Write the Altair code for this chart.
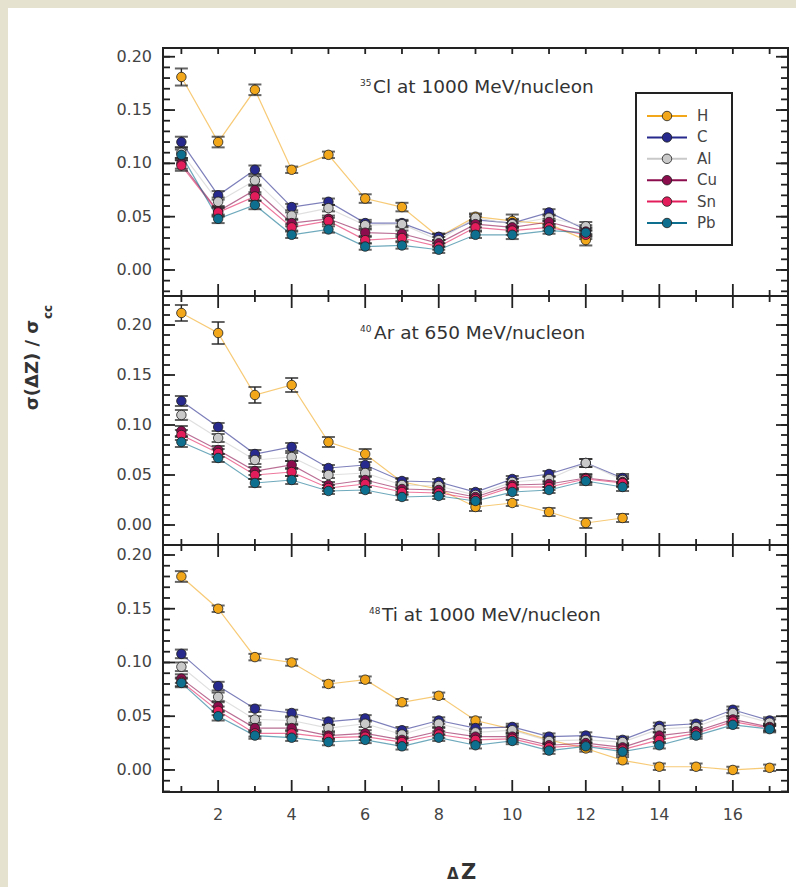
import altair as alt
import pandas as pd

SERIES = ["H", "C", "Al", "Cu", "Sn", "Pb"]
COLORS = ["#f2a71b", "#27298c", "#c9c9c9", "#8c0d4d", "#e31c5c", "#0e6f8f"]

# ---- panel 1: 35Cl at 1000 MeV/nucleon
X1 = [1, 2, 3, 4, 5, 6, 7, 8, 9, 10, 11, 12]
P1 = {
    "H":  [0.181, 0.120, 0.169, 0.094, 0.108, 0.067, 0.059, 0.031, 0.050, 0.046, 0.043, 0.028],
    "C":  [0.120, 0.070, 0.094, 0.059, 0.064, 0.044, 0.044, 0.031, 0.047, 0.044, 0.054, 0.038],
    "Al": [0.110, 0.064, 0.084, 0.051, 0.058, 0.042, 0.043, 0.028, 0.049, 0.043, 0.049, 0.041],
    "Cu": [0.100, 0.055, 0.075, 0.044, 0.048, 0.035, 0.034, 0.025, 0.043, 0.040, 0.045, 0.036],
    "Sn": [0.098, 0.054, 0.069, 0.040, 0.046, 0.028, 0.030, 0.022, 0.040, 0.037, 0.040, 0.033],
    "Pb": [0.108, 0.048, 0.061, 0.033, 0.038, 0.022, 0.023, 0.019, 0.033, 0.033, 0.037, 0.035],
}
E1_H = [0.008, 0.005, 0.005, 0.003, 0.003, 0.004, 0.004, 0.003, 0.003, 0.006, 0.003, 0.005]
E1_T = [0.005, 0.004, 0.004, 0.003, 0.003, 0.003, 0.003, 0.003, 0.003, 0.004, 0.003, 0.004]

# ---- panel 2: 40Ar at 650 MeV/nucleon
X2 = [1, 2, 3, 4, 5, 6, 7, 8, 9, 10, 11, 12, 13]
P2 = {
    "H":  [0.212, 0.192, 0.130, 0.140, 0.083, 0.071, 0.043, 0.036, 0.018, 0.022, 0.013, 0.002, 0.007],
    "C":  [0.124, 0.098, 0.071, 0.078, 0.057, 0.060, 0.044, 0.043, 0.033, 0.046, 0.051, 0.062, 0.047],
    "Al": [0.110, 0.087, 0.065, 0.068, 0.050, 0.052, 0.040, 0.039, 0.030, 0.043, 0.046, 0.062, 0.045],
    "Cu": [0.094, 0.075, 0.054, 0.060, 0.040, 0.045, 0.036, 0.035, 0.028, 0.040, 0.041, 0.047, 0.043],
    "Sn": [0.090, 0.072, 0.050, 0.053, 0.037, 0.041, 0.033, 0.032, 0.026, 0.038, 0.038, 0.046, 0.042],
    "Pb": [0.083, 0.067, 0.042, 0.045, 0.034, 0.035, 0.028, 0.029, 0.024, 0.033, 0.035, 0.044, 0.038],
}
E2_H = [0.008, 0.011, 0.008, 0.007, 0.005, 0.005, 0.003, 0.003, 0.004, 0.003, 0.004, 0.005, 0.004]
E2_T = [0.005, 0.004, 0.004, 0.004, 0.003, 0.003, 0.003, 0.003, 0.003, 0.003, 0.003, 0.004, 0.004]

# ---- panel 3: 48Ti at 1000 MeV/nucleon
X3 = [1, 2, 3, 4, 5, 6, 7, 8, 9, 10, 11, 12, 13, 14, 15, 16, 17]
P3 = {
    "H":  [0.180, 0.150, 0.105, 0.100, 0.080, 0.084, 0.063, 0.069, 0.046, 0.038, 0.028, 0.020, 0.009, 0.003, 0.003, 0.000, 0.002],
    "C":  [0.108, 0.078, 0.057, 0.053, 0.045, 0.048, 0.037, 0.046, 0.039, 0.040, 0.031, 0.032, 0.028, 0.041, 0.043, 0.056, 0.046],
    "Al": [0.096, 0.068, 0.047, 0.046, 0.039, 0.043, 0.033, 0.043, 0.035, 0.037, 0.027, 0.028, 0.026, 0.038, 0.040, 0.053, 0.044],
    "Cu": [0.085, 0.059, 0.039, 0.039, 0.032, 0.034, 0.028, 0.036, 0.031, 0.031, 0.023, 0.025, 0.021, 0.032, 0.036, 0.047, 0.040],
    "Sn": [0.082, 0.055, 0.034, 0.034, 0.030, 0.031, 0.026, 0.033, 0.028, 0.029, 0.021, 0.023, 0.019, 0.028, 0.034, 0.045, 0.039],
    "Pb": [0.081, 0.050, 0.032, 0.030, 0.026, 0.028, 0.022, 0.030, 0.023, 0.027, 0.018, 0.022, 0.017, 0.023, 0.032, 0.042, 0.038],
}
E3_H = [0.005, 0.003, 0.003, 0.003, 0.003, 0.003, 0.003, 0.003, 0.003, 0.003, 0.003, 0.003, 0.003, 0.003, 0.003, 0.003, 0.003]
E3_T = [0.004, 0.004, 0.003, 0.003, 0.003, 0.003, 0.003, 0.003, 0.003, 0.003, 0.003, 0.003, 0.003, 0.003, 0.003, 0.003, 0.003]

PANEL_SUP = ["35", "40", "48"]
PANEL_TXT = ["Cl at 1000 MeV/nucleon", "Ar at 650 MeV/nucleon", "Ti at 1000 MeV/nucleon"]

Y_LABELS = ["0.00", "0.05", "0.10", "0.15", "0.20"]
Y_MAJOR = [0.00, 0.05, 0.10, 0.15, 0.20]
Y_MINOR = [[round(i * 0.01, 2) for i in range(-2, 21)],
           [round(i * 0.01, 2) for i in range(-2, 23)],
           [round(i * 0.01, 2) for i in range(-2, 21)]]
X_TICKS = list(range(1, 18))
X_LABELS = [2, 4, 6, 8, 10, 12, 14, 16]

# ---- layout (plot area pixels)
W, HT = 625, 744
TOPS = [0, 248, 497]
BOTS = [248, 497, 744]
DOMAINS = [[-0.0244, 0.2082], [-0.020, 0.229], [-0.0205, 0.2093]]
ANN = [(197, 210, 38, 45), (197, 211, 284, 291), (206, 219, 566, 573)]

FONT = "DejaVu Sans"
INK = "#222222"
TXT = "#444444"

XS = alt.Scale(domain=[0.5, 17.5], nice=False, zero=False)
CS = alt.Scale(domain=SERIES, range=COLORS)


def ysc(k):
    return alt.Scale(domain=DOMAINS[k], range=[BOTS[k], TOPS[k]], nice=False, zero=False)


one = pd.DataFrame({"a": [0]})
layers = []

# white page area
layers.append(alt.Chart(one).mark_rect(fill="white").encode(
    x=alt.value(-155), x2=alt.value(633), y=alt.value(-40), y2=alt.value(839)))

panels = [(X1, P1, E1_H, E1_T), (X2, P2, E2_H, E2_T), (X3, P3, E3_H, E3_T)]
for k, (xs, vals, eh, et) in enumerate(panels):
    rows = []
    for si, s in enumerate(SERIES):
        errs = eh if s == "H" else et
        for x, v, e in zip(xs, vals[s], errs):
            rows.append({"x": x, "v": v, "lo": v - e, "hi": v + e, "series": s, "o": si})
    df = pd.DataFrame(rows)
    ys = ysc(k)
    X = alt.X("x:Q", scale=XS, axis=None)
    base = alt.Chart(df)
    layers.append(base.mark_line(strokeWidth=1.2, opacity=0.6).encode(
        x=X, y=alt.Y("v:Q", scale=ys, axis=None),
        color=alt.Color("series:N", scale=CS, legend=None), order=alt.Order("x:Q")))
    layers.append(base.mark_rule(color=INK, strokeWidth=1.4).encode(
        x=X, y=alt.Y("lo:Q", scale=ys, axis=None), y2="hi:Q"))
    layers.append(base.mark_tick(color=INK, thickness=2, size=13, orient="horizontal").encode(
        x=X, y=alt.Y("lo:Q", scale=ys, axis=None)))
    layers.append(base.mark_tick(color=INK, thickness=2, size=13, orient="horizontal").encode(
        x=X, y=alt.Y("hi:Q", scale=ys, axis=None)))
    layers.append(base.mark_circle(size=90, opacity=1, stroke="#1e1e1e", strokeWidth=0.8).encode(
        x=X, y=alt.Y("v:Q", scale=ys, axis=None),
        color=alt.Color("series:N", scale=CS, legend=None), order=alt.Order("o:Q")))

    # y ticks (inward) both sides
    dmaj = pd.DataFrame({"t": Y_MAJOR, "lab": Y_LABELS})
    dmin = pd.DataFrame({"t": Y_MINOR[k]})
    for d, ln in ((dmaj, 12), (dmin, 7)):
        layers.append(alt.Chart(d).mark_rule(color=INK, strokeWidth=1.8).encode(
            y=alt.Y("t:Q", scale=ys, axis=None), x=alt.value(0), x2=alt.value(ln)))
        layers.append(alt.Chart(d).mark_rule(color=INK, strokeWidth=1.8).encode(
            y=alt.Y("t:Q", scale=ys, axis=None), x=alt.value(W - ln), x2=alt.value(W)))
    layers.append(alt.Chart(dmaj).mark_text(align="right", baseline="middle", font=FONT,
                                            fontSize=16, color=TXT).encode(
        y=alt.Y("t:Q", scale=ys, axis=None), x=alt.value(-11), text="lab:N"))

    # panel annotation
    sx, mx, sy, my = ANN[k]
    layers.append(alt.Chart(pd.DataFrame({"s": [PANEL_SUP[k]]})).mark_text(
        align="left", baseline="alphabetic", font=FONT, fontSize=9, color="#333333").encode(
        x=alt.value(sx), y=alt.value(sy), text="s:N"))
    layers.append(alt.Chart(pd.DataFrame({"s": [PANEL_TXT[k]]})).mark_text(
        align="left", baseline="alphabetic", font=FONT, fontSize=18.5, color="#333333").encode(
        x=alt.value(mx), y=alt.value(my), text="s:N"))

# x ticks at each horizontal boundary
even = [t for t in X_TICKS if t % 2 == 0]
odd = [t for t in X_TICKS if t % 2 == 1]
for b in [0, 248, 497, 744]:
    for tl, ln in ((even, 12), (odd, 6)):
        if b == 0:
            ln = 6
        d = pd.DataFrame({"t": tl})
        if b < HT:
            layers.append(alt.Chart(d).mark_rule(color=INK, strokeWidth=1.8).encode(
                x=alt.X("t:Q", scale=XS, axis=None), y=alt.value(b), y2=alt.value(b + ln)))
        if b > 0:
            layers.append(alt.Chart(d).mark_rule(color=INK, strokeWidth=1.8).encode(
                x=alt.X("t:Q", scale=XS, axis=None), y=alt.value(b - ln), y2=alt.value(b)))

layers.append(alt.Chart(pd.DataFrame({"t": X_LABELS})).mark_text(
    align="center", baseline="middle", font=FONT, fontSize=16, color=TXT).encode(
    x=alt.X("t:Q", scale=XS, axis=None), y=alt.value(767), text="t:Q"))

# frame and dividers
layers.append(alt.Chart(one).mark_rect(fill=None, fillOpacity=0, stroke=INK, strokeWidth=2).encode(
    x=alt.value(0), x2=alt.value(W), y=alt.value(0), y2=alt.value(HT)))
for b in [248, 497]:
    layers.append(alt.Chart(one).mark_rule(color=INK, strokeWidth=2).encode(
        x=alt.value(0), x2=alt.value(W), y=alt.value(b)))

# legend (panel 1)
leg = pd.DataFrame({"series": SERIES})
LY = alt.Y("series:N", scale=alt.Scale(type="point", domain=SERIES, range=[68, 175], padding=0), axis=None)
layers.append(alt.Chart(one).mark_rect(fill="white", stroke=INK, strokeWidth=2).encode(
    x=alt.value(473), x2=alt.value(569), y=alt.value(45), y2=alt.value(197)))
layers.append(alt.Chart(leg).mark_rule(strokeWidth=2).encode(
    x=alt.value(484), x2=alt.value(524), y=LY, color=alt.Color("series:N", scale=CS, legend=None)))
layers.append(alt.Chart(leg).mark_circle(size=90, opacity=1, stroke="#1e1e1e", strokeWidth=0.8).encode(
    x=alt.value(504), y=LY, color=alt.Color("series:N", scale=CS, legend=None)))
layers.append(alt.Chart(leg).mark_text(align="left", baseline="middle", font=FONT, fontSize=15,
                                       color=TXT).encode(x=alt.value(534), y=LY, text="series:N"))

# axis titles
layers.append(alt.Chart(pd.DataFrame({"s": ["σ(ΔZ) / σ"]})).mark_text(
    align="center", baseline="alphabetic", angle=270, font=FONT, fontSize=18, fontWeight="bold",
    color="#333333").encode(x=alt.value(-125), y=alt.value(317), text="s:N"))
layers.append(alt.Chart(pd.DataFrame({"s": ["cc"]})).mark_text(
    align="left", baseline="alphabetic", angle=270, font=FONT, fontSize=12, fontWeight="bold",
    color="#333333").encode(x=alt.value(-111), y=alt.value(271), text="s:N"))
layers.append(alt.Chart(pd.DataFrame({"s": ["Δ"]})).mark_text(
    align="left", baseline="alphabetic", font=FONT, fontSize=15, fontWeight="bold",
    color="#333333").encode(x=alt.value(284), y=alt.value(831), text="s:N"))
layers.append(alt.Chart(pd.DataFrame({"s": ["Z"]})).mark_text(
    align="left", baseline="alphabetic", font=FONT, fontSize=21, fontWeight="bold",
    color="#333333").encode(x=alt.value(298), y=alt.value(831), text="s:N"))

chart = alt.layer(*layers).resolve_scale(y="independent").properties(
    width=W, height=HT,
    autosize=alt.AutoSizeParams(type="none"),
    padding={"left": 163, "top": 48, "right": 8, "bottom": 95},
    background="#e5e3cf",
).configure_view(stroke=None)

chart.save("out.html", embed_options={"renderer": "svg", "actions": False})
